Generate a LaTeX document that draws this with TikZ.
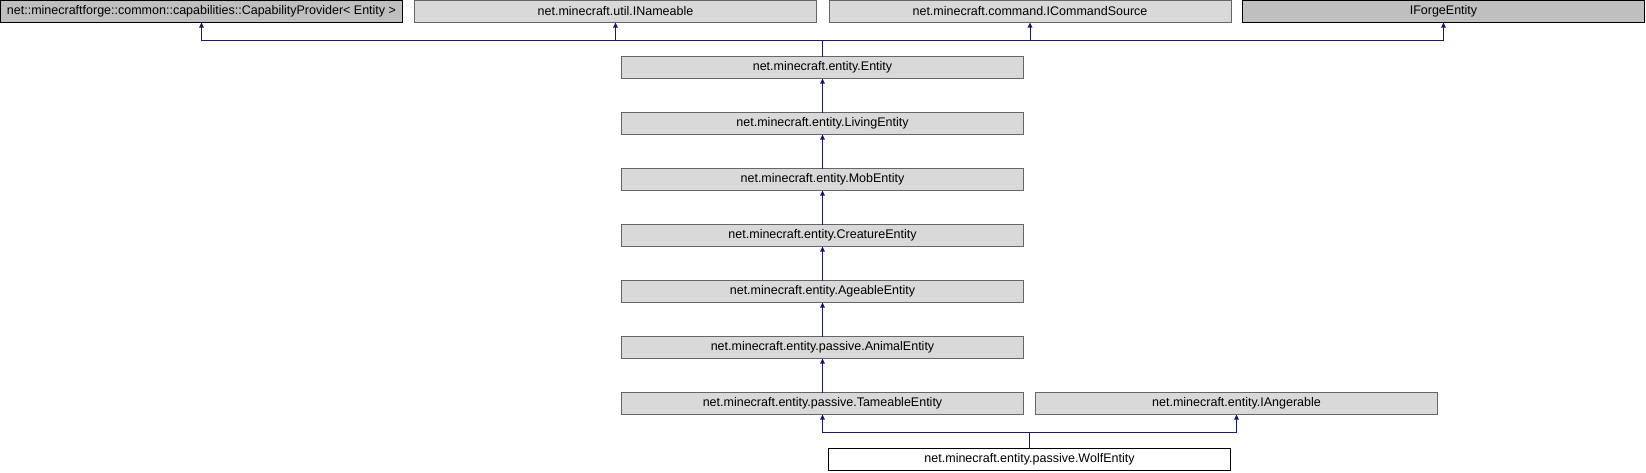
\documentclass[tikz,border=0pt]{standalone}
\usepackage{fontspec}
\setmainfont{Liberation Sans}
\usepackage{tikz}
\usetikzlibrary{arrows.meta, positioning}

\definecolor{edgeblue}{HTML}{191970}
\definecolor{boxgray}{HTML}{D9D9D9}
\definecolor{darkgray}{HTML}{BFBFBF}
\definecolor{linegray}{HTML}{666666}

\begin{document}
\begin{tikzpicture}[x=1pt, y=-1pt,
        font=\fontsize{12.5}{14}\selectfont,
        node distance=34pt,
        klass/.style={draw=linegray, fill=boxgray, line width=1pt, minimum width=402pt,
            minimum height=22pt, inner sep=0pt, outer sep=0pt},
        extern/.style={klass, draw=black, fill=darkgray},
        current/.style={klass, draw=black, fill=white},
        inh/.style={draw=edgeblue, line width=1pt, -{Triangle[length=5pt, width=4.5pt]}}]
        \useasboundingbox (0,0) rectangle (1646,472);

        \node[extern] (cap) at (201.5,11.5) {net::minecraftforge::common::capabilities::CapabilityProvider< Entity >};
        \node[klass] (nameable) at (615.5,11.5) {net.minecraft.util.INameable};
        \node[klass] (cmdsource) at (1030,11.5) {net.minecraft.command.ICommandSource};
        \node[extern] (forge) at (1443.5,11.5) {IForgeEntity};

        \node[klass] (entity) at (822.5,67.5) {net.minecraft.entity.Entity};
        \node[klass, below=of entity] (living) {net.minecraft.entity.LivingEntity};
        \node[klass, below=of living] (mob) {net.minecraft.entity.MobEntity};
        \node[klass, below=of mob] (creature) {net.minecraft.entity.CreatureEntity};
        \node[klass, below=of creature] (ageable) {net.minecraft.entity.AgeableEntity};
        \node[klass, below=of ageable] (animal) {net.minecraft.entity.passive.AnimalEntity};
        \node[klass, below=of animal] (tameable) {net.minecraft.entity.passive.TameableEntity};
        \node[klass] (angerable) at (1236.5,403.5) {net.minecraft.entity.IAngerable};
        \node[current] (wolf) at (1029.5,459.5) {net.minecraft.entity.passive.WolfEntity};

        \draw[inh] (entity.north) -- ++(0,-16) -| (cap.south);
        \draw[inh] (entity.north) -- ++(0,-16) -| (nameable.south);
        \draw[inh] (entity.north) -- ++(0,-16) -| (cmdsource.south);
        \draw[inh] (entity.north) -- ++(0,-16) -| (forge.south);

        \draw[inh] (living) -- (entity);
        \draw[inh] (mob) -- (living);
        \draw[inh] (creature) -- (mob);
        \draw[inh] (ageable) -- (creature);
        \draw[inh] (animal) -- (ageable);
        \draw[inh] (tameable) -- (animal);

        \draw[inh] (wolf.north) -- ++(0,-16) -| (tameable.south);
        \draw[inh] (wolf.north) -- ++(0,-16) -| (angerable.south);
    \end{tikzpicture}
\end{document}
